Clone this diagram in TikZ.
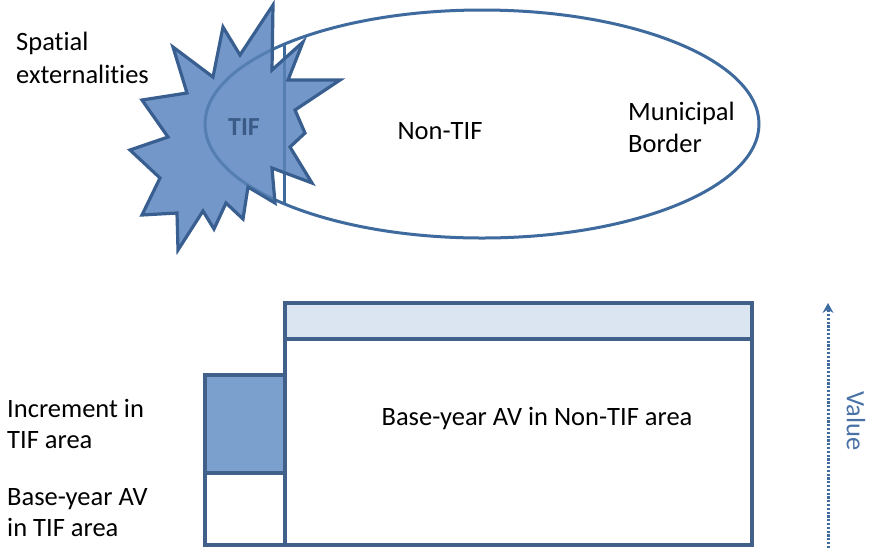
\documentclass[tikz,border=0pt]{standalone}
\usepackage{fontspec}
\setmainfont{Carlito}[Ligatures=NoCommon]
\usetikzlibrary{arrows.meta}

\definecolor{starfill}{HTML}{7397C9}
\definecolor{starline}{HTML}{385F90}
\definecolor{rim}{HTML}{3E6A9E}
\definecolor{boxline}{HTML}{41608A}
\definecolor{bandfill}{HTML}{DBE5F1}
\definecolor{incfill}{HTML}{7BA0CD}
\definecolor{tiftext}{HTML}{3B5A86}
\definecolor{valuecol}{HTML}{4A72A6}

\tikzset{
  lbl/.style={inner sep=0pt, font=\fontsize{26.5}{32}\selectfont, text=black},
  barbox/.style={draw=boxline, line width=3.2pt, line join=miter},
  rimline/.style={draw=rim, line width=3pt},
}

\begin{document}
\begin{tikzpicture}[x=1pt, y=-1pt]
  \useasboundingbox (0,0) rectangle (872,550);

  % municipal border and the TIF district edge
  \draw[rimline] (482,124) ellipse [x radius=277, y radius=114];
  \draw[rimline] (284,44) -- (284,204);

  % spatial spill-over star
  \def\starpath{(273,5) -- (272,70) -- (303,42) -- (288,80) -- (340,80) -- (295,110)
    -- (305,133) -- (290,147) -- (312,183) -- (272,168) -- (275,203)
    -- (248,187) -- (243,219) -- (226,203) -- (214,229) -- (203,211)
    -- (178,250) -- (177,213) -- (142,215) -- (160,178) -- (130,150)
    -- (168,137) -- (142,100) -- (187,93) -- (173,47) -- (213,77)
    -- (223,27) -- (240,55) -- cycle}
  \filldraw[fill=starfill, draw=starline, line width=3.2pt, line join=miter]
    \starpath;

  % border lines seen through the star
  \begin{scope}
    \clip \starpath;
    \draw[rimline, draw opacity=0.55] (482,124) ellipse [x radius=277, y radius=114];
    \draw[rimline, draw opacity=0.55] (284,44) -- (284,204);
  \end{scope}

  \node[lbl, font=\fontsize{26}{30}\bfseries, text=tiftext] (tif) at (244,127) {TIF};
  \node[lbl, anchor=base] (nontif) at (440,139) {Non-TIF};
  \node[lbl, anchor=base west] (muni1) at (628,120) {Municipal};
  \node[lbl, anchor=base west] (muni2) at (628,152) {Border};
  \node[lbl, anchor=base west] (spat1) at (16,50) {Spatial};
  \node[lbl, anchor=base west] (spat2) at (16,83) {externalities};

  % assessed value bars
  \draw[barbox, fill=bandfill] (285,303) rectangle (752,339);
  \draw[barbox] (285,339) rectangle (752,545);
  \draw[barbox, fill=incfill] (205,375) rectangle (285,473);
  \draw[barbox] (205,473) rectangle (285,545);

  \node[lbl, anchor=base] (basenon) at (537,425) {Base-year AV in Non-TIF area};
  \node[lbl, anchor=base west] (inc1) at (7,417) {Increment in};
  \node[lbl, anchor=base west] (inc2) at (7,448) {TIF area};
  \node[lbl, anchor=base west] (base1) at (7,505) {Base-year AV};
  \node[lbl, anchor=base west] (base2) at (7,536) {in TIF area};

  % value axis
  \coordinate (vlow) at (828,548);
  \coordinate (vhigh) at (828,303);
  \draw[draw=rim, line width=3pt, dash pattern=on 2.2pt off 1.6pt,
        -{Stealth[length=10pt, width=11pt, inset=3.5pt]}] (vlow) -- (vhigh);
  \node[lbl, text=valuecol, rotate=-90] (value) at (856,421) {Value};
\end{tikzpicture}
\end{document}
